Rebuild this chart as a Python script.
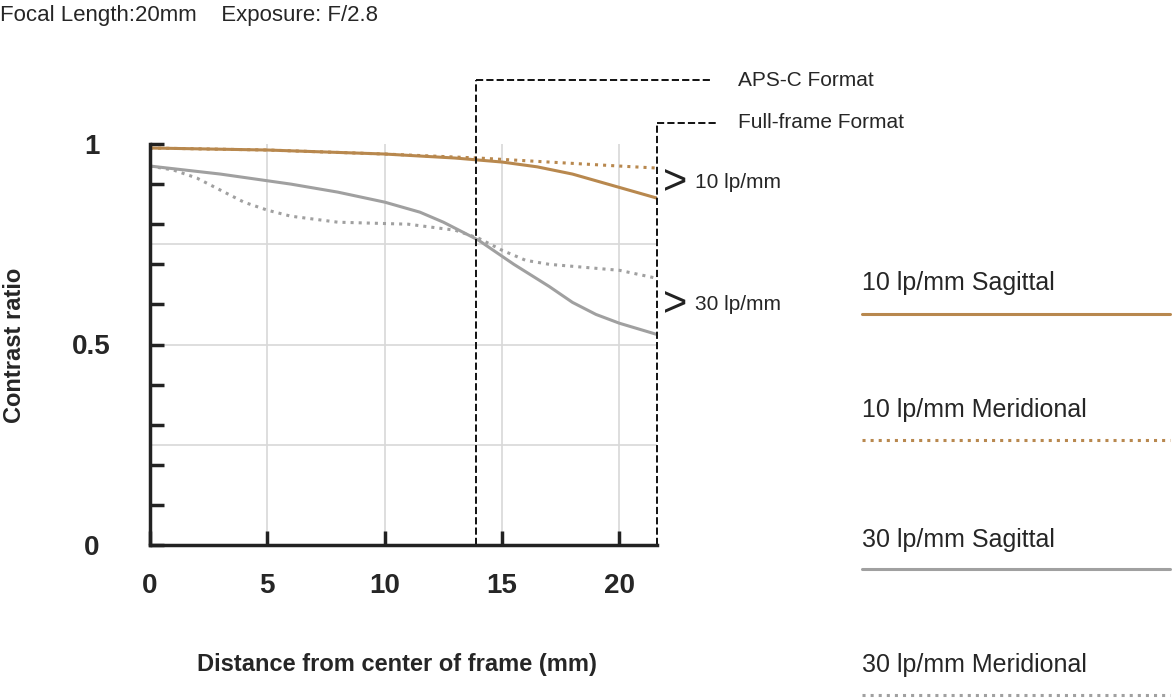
import numpy as np, pandas as pd, seaborn as sns, matplotlib
matplotlib.use("Agg")
import matplotlib.pyplot as plt
from matplotlib.lines import Line2D

x10s = [0, 5, 10, 13, 15, 16.5, 18, 19.5, 21.6]
y10s = [0.99, 0.985, 0.975, 0.965, 0.955, 0.943, 0.925, 0.9, 0.865]
x10m = [0, 5, 10, 14, 17, 20, 21.6]
y10m = [0.99, 0.985, 0.975, 0.965, 0.955, 0.945, 0.94]
x30s = [0, 3, 6, 8, 10, 11.5, 12.5, 14, 15.5, 17, 18, 19, 20, 21.6]
y30s = [0.945, 0.925, 0.9, 0.88, 0.855, 0.83, 0.805, 0.76, 0.7, 0.645, 0.605, 0.575, 0.553, 0.525]
x30m = [0, 1, 2, 3, 4, 5, 6, 8, 11, 13, 14, 15, 16, 17, 20, 21.6]
y30m = [0.945, 0.935, 0.915, 0.885, 0.855, 0.835, 0.82, 0.805, 0.8, 0.785, 0.765, 0.735, 0.71, 0.7, 0.685, 0.665]
names = ["10 lp/mm Sagittal", "10 lp/mm Meridional", "30 lp/mm Sagittal", "30 lp/mm Meridional"]

sns.set_style("white")
plt.rcParams['font.family'] = ['Liberation Sans', 'DejaVu Sans']
brown, gray = "#B8884E", "#A0A0A0"
colors = [brown, brown, gray, gray]
styles = ["-", ":", "-", ":"]

df = pd.concat([pd.DataFrame({"x": xs, "y": ys, "s": n}) for xs, ys, n in
                zip([x10s, x10m, x30s, x30m], [y10s, y10m, y30s, y30m], names)])

fig = plt.figure(figsize=(11.74, 7), dpi=100)
ax = fig.add_axes([150/1174, 155/700, 507/1174, 401/700])
for g in [5, 10, 15, 20]:
    ax.axvline(g, color="#D8D8D8", lw=1.2, zorder=0)
for g in [0.25, 0.5, 0.75]:
    ax.axhline(g, color="#D8D8D8", lw=1.2, zorder=0)
for n, c, ls in zip(names, colors, styles):
    sns.lineplot(data=df[df.s == n], x="x", y="y", ax=ax, color=c, lw=2.2,
                 linestyle=ls, legend=False)
ax.set_xlim(0, 21.6); ax.set_ylim(0, 1)
for s in ["top", "right"]:
    ax.spines[s].set_visible(False)
for s in ["left", "bottom"]:
    ax.spines[s].set_linewidth(2.5); ax.spines[s].set_color("#222")
ax.set_xticks([0, 5, 10, 15, 20]); ax.set_xticklabels(["0", "5", "10", "15", "20"])
yt = np.round(np.arange(0, 1.01, 0.1), 1)
ax.set_yticks(yt)
ax.set_yticklabels(["0" if v == 0 else "0.5" if v == 0.5 else "1" if v == 1 else "" for v in yt])
ax.tick_params(axis="y", left=True, direction="in", length=10, width=2.5, color="#222", labelsize=20, pad=42)
ax.tick_params(axis="x", bottom=True, direction="in", length=10, width=2.5, color="#222", labelsize=20, pad=20)
for t in ax.get_xticklabels() + ax.get_yticklabels():
    t.set_fontweight("bold")
for t in ax.get_yticklabels():
    t.set_horizontalalignment("center")
ax.set_xlabel(""); ax.set_ylabel("")

kw = dict(color="#111", ls="--", lw=1.4, clip_on=False)
ax.plot([13.9, 13.9], [0, 1.16], **kw); ax.plot([13.9, 24.0], [1.16, 1.16], **kw)
ax.plot([21.6, 21.6], [0, 1.052], **kw); ax.plot([21.6, 24.1], [1.052, 1.052], **kw)

fig.text(738/1174, 1-80/700, "APS-C Format", fontsize=15, va="center")
fig.text(738/1174, 1-123/700, "Full-frame Format", fontsize=15, va="center")
for yy, lab in [(183, "10 lp/mm"), (305, "30 lp/mm")]:
    fig.text(663/1174, 1-yy/700, ">", fontsize=30, va="center", color="#222")
    fig.text(695/1174, 1-yy/700, lab, fontsize=15, va="center")

fig.text(0, 1-15/700, "Focal Length:20mm    Exposure: F/2.8", fontsize=16, va="center")
fig.text(15/1174, 1-345/700, "Contrast ratio", rotation=90, fontsize=17, fontweight="bold", va="center", ha="center")
fig.text(397/1174, 1-665/700, "Distance from center of frame (mm)", fontsize=17, fontweight="bold", va="center", ha="center")

for n, c, ls, ty, ly in zip(names, colors, styles, [283, 410, 540, 665], [314, 440, 569, 695]):
    fig.text(862/1174, 1-ty/700, n, fontsize=18, va="center")
    fig.add_artist(Line2D([862/1174, 1170/1174], [1-ly/700, 1-ly/700], color=c, ls=ls, lw=2.2))

fig.savefig("out.png", dpi=100)
